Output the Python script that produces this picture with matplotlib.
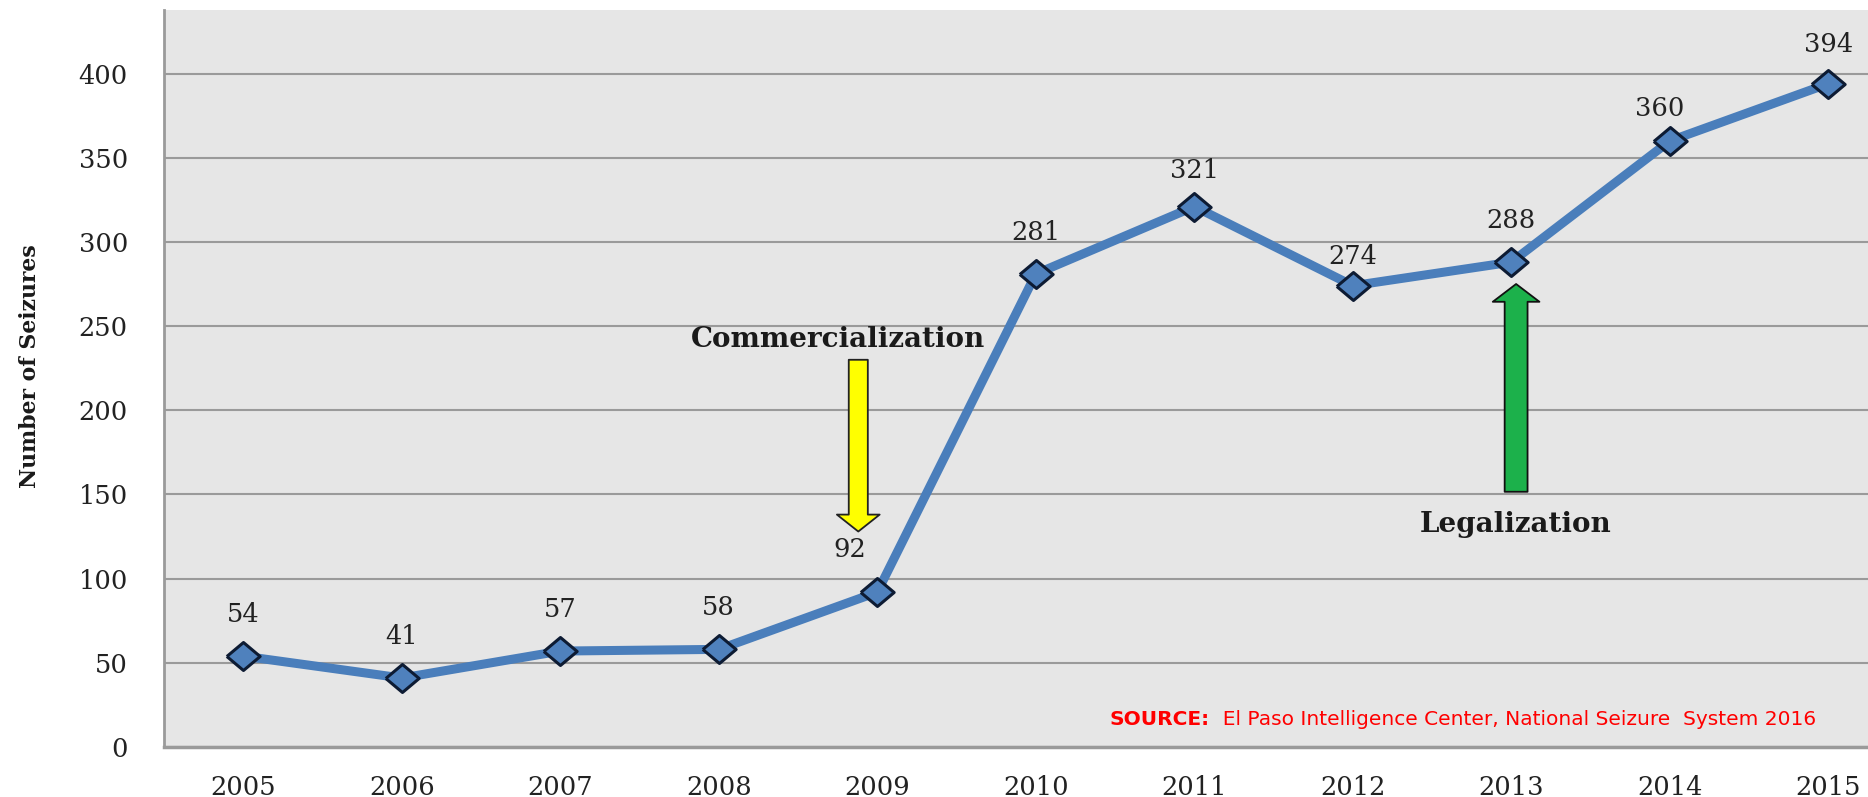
import matplotlib.pyplot as plt

# seizures per year
years = [2005, 2006, 2007, 2008, 2009, 2010, 2011, 2012, 2013, 2014, 2015]
seizures = [54, 41, 57, 58, 92, 281, 321, 274, 288, 360, 394]
y_ticks = [0, 50, 100, 150, 200, 250, 300, 350, 400]

serif = 'DejaVu Serif'
line_blue = '#4a7ebb'

# label nudges (points) where the default spot would clash with the line/arrows
label_shift = {2009: (-20, 31), 2011: (0, 26), 2012: (0, 21), 2014: (-7, 23), 2015: (0, 28)}

# slightly flattened diamond
diamond = [(-1, 0), (0, 0.84), (1, 0), (0, -0.84), (-1, 0)]

fig = plt.figure(figsize=(18.68, 7.97), dpi=100)
ax = fig.add_axes([0.0878, 0.0627, 0.9122, 0.9253])
ax.set_facecolor('#e6e6e6')

ax.plot(years, seizures, color=line_blue, lw=6.5, marker=diamond, ms=24,
        mfc='#4f81bd', mec='#0d1b33', mew=2.2, zorder=3)

for yr, val in zip(years, seizures):
    dx, dy = label_shift.get(yr, (0, 30))
    ax.annotate(str(val), (yr, val), xytext=(dx, dy), textcoords='offset points',
                ha='center', va='center', fontsize=18.5, family=serif, color='#222222')

# event arrows
ax.annotate('', xy=(2008.88, 128), xytext=(2008.88, 230),
            arrowprops=dict(arrowstyle='simple,head_width=2.2,head_length=0.87,tail_width=0.98',
                            fc='#ffff00', ec='#222222', lw=1.3, mutation_scale=14,
                            shrinkA=0, shrinkB=0))
ax.text(2008.75, 242, 'Commercialization', ha='center', va='center',
        fontsize=20, fontweight='bold', family=serif, color='#1a1a1a')

ax.annotate('', xy=(2013.03, 275), xytext=(2013.03, 151.6),
            arrowprops=dict(arrowstyle='simple,head_width=2.1,head_length=0.8,tail_width=1.03',
                            fc='#1cb14b', ec='#111111', lw=1.3, mutation_scale=16,
                            shrinkA=0, shrinkB=0))
ax.text(2013.03, 132, 'Legalization', ha='center', va='center',
        fontsize=20, fontweight='bold', family=serif, color='#1a1a1a')

# source note
src = ax.text(0.555, 0.038, 'SOURCE:', transform=ax.transAxes, ha='left', va='center',
              fontsize=14.5, fontweight='bold', color='#ff0000', family='DejaVu Sans')
ax.annotate('  El Paso Intelligence Center, National Seizure  System 2016',
            xycoords=src, xy=(1, 0.5), va='center', ha='left',
            fontsize=14.5, color='#ff0000', family='DejaVu Sans')

ax.set_xlim(2004.5, 2015.25)
ax.set_ylim(0, 438)
ax.set_xticks(years)
ax.set_yticks(y_ticks)
ax.yaxis.grid(True, color='#9a9a9a', lw=1.5)
ax.set_axisbelow(True)
ax.tick_params(length=0, labelsize=18.5, colors='#222222')
ax.tick_params(axis='x', pad=20)
ax.tick_params(axis='y', pad=26)
for lab in ax.get_xticklabels() + ax.get_yticklabels():
    lab.set_family(serif)

for side in ['top', 'right']:
    ax.spines[side].set_visible(False)
ax.spines['left'].set_color('#9a9a9a')
ax.spines['left'].set_linewidth(2)
ax.spines['bottom'].set_color('#9a9a9a')
ax.spines['bottom'].set_linewidth(2.5)

ax.set_ylabel('Number of Seizures', fontsize=15.8, fontweight='bold', family=serif,
              color='#1a1a1a')
ax.yaxis.set_label_coords(-0.0722, 0.517)

fig.savefig('out.png', dpi=100)
